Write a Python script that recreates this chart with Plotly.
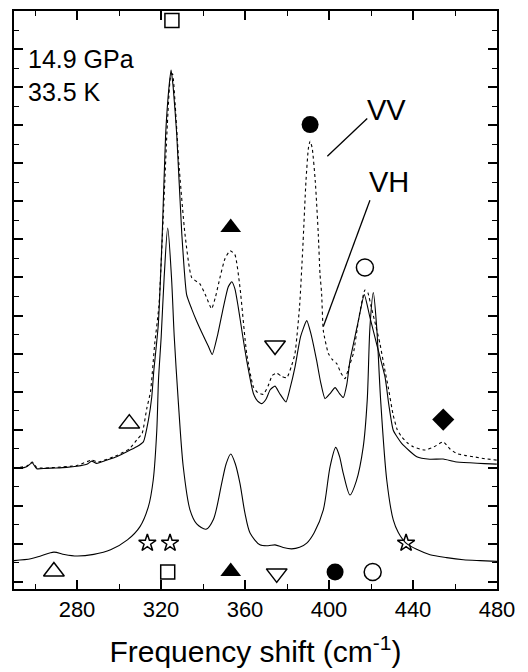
import plotly.graph_objects as go

# ---------------- data ----------------
calc_x = [250, 258, 263, 269, 274, 280, 288, 296, 304, 310, 314, 316.3, 318, 318.8, 320.1, 321.5,
          323.2, 325, 326.3, 328.2, 330.6, 333.8, 337, 341.4, 345, 348.9, 351, 353.2, 355.4, 357.6,
          360, 362.4, 367.1, 371, 374.3, 378.2, 382.2, 386, 389.4, 393, 397.3, 400.5, 403.2, 405,
          406.8, 410, 413, 416.3, 418.2, 419.5, 421.1, 422.7, 424.6, 427.5, 430.6, 433, 436.7, 442,
          448.1, 456, 464, 472, 480]
calc_y = [1.12, 1.22, 1.38, 1.57, 1.44, 1.36, 1.45, 1.69, 2.21, 2.91, 3.96, 5.36, 7.97, 10.6, 12.9, 16.0,
          18.6, 16.0, 12.9, 9.54, 6.05, 3.79, 3.05, 2.77, 3.3, 5.18, 6.2, 6.72, 6.2, 5.18,
          3.6, 2.57, 1.95, 1.9, 1.95, 1.81, 1.74, 1.82, 2.04, 2.6, 3.79, 6.05, 7.07, 6.6,
          5.71, 4.57, 5.3, 7.1, 9.54, 13.4, 15.2, 13.4, 9.54, 5.36, 3.26, 2.6, 2.04, 1.7,
          1.43, 1.28, 1.17, 1.12, 1.08]

vh_x = [250, 253, 256, 258.7, 260.8, 265, 270, 275, 280, 285, 287, 289.4, 294, 298.9, 303, 308.4,
        311.6, 314, 315.6, 316.5, 318.7, 320.6, 322.2, 323.8, 324.8, 325.8, 327.5, 329.9, 332.2,
        334.6, 337, 340.1, 342.5, 344.4, 347, 349.7, 352, 353.7, 355.2, 356.8, 358.8, 360.8, 364,
        366, 368, 370, 372, 374.3, 376.5, 379.5, 381.5, 383.8, 386.5, 389.4, 391.5, 394.1, 396,
        398.1, 400.5, 402.9, 405, 406.8, 408.5, 410, 412, 414, 416.8, 419.5, 422.7, 426.7, 428.5,
        430.6, 434.6, 441.8, 448, 454.4, 460, 467.1, 474, 479.9]
vh_y = [5.97, 5.97, 6.05, 6.26, 5.95, 5.97, 5.99, 6.02, 6.08, 6.2, 6.35, 6.23, 6.4, 6.58, 6.8, 7.1,
        7.36, 8.5, 9.72, 11.0, 13.5, 18.3, 23.5, 26.0, 26.9, 26.0, 23.5, 18.3, 15.1,
        14.35, 13.7, 12.95, 12.4, 11.95, 13.0, 14.43, 15.5, 15.77, 15.4, 14.43, 13.0, 11.64, 9.9,
        9.5, 9.37, 9.6, 10.1, 10.29, 9.9, 9.46, 10.2, 11.29, 12.9, 13.73, 13.0, 11.64, 10.5,
        9.63, 9.9, 10.21, 9.9, 9.69, 10.4, 11.64, 12.7, 13.73, 15.1, 13.9, 12.5, 10.76, 9.3,
        7.97, 7.28, 6.58, 6.45, 6.46, 6.32, 6.26, 6.22, 6.19]

vv_x = [250, 256, 258.7, 261, 270, 280, 287, 290, 299, 305, 308.4, 311, 313.2, 315, 317, 319, 321,
        323, 324.5, 325.5, 326.8, 328.5, 331.4, 334.6, 338.6, 341.5, 344.1, 346, 348.1, 350.5,
        352.9, 355.2, 357.6, 360.8, 364, 366, 368.7, 371, 373, 375.1, 377.5, 379.9, 382, 383.8,
        386, 387.5, 389, 390.2, 391, 392, 393.5, 394.9, 395.7, 396.5, 397.3, 399.7, 401.5, 403.7,
        405.6, 407.6, 409.5, 411.6, 414, 415.8, 417.1, 418.5, 420, 422.2, 424.3, 426.3, 428.2,
        430.5, 432.5, 434.6, 437.4, 440.1, 445.7, 450, 454.4, 457.5, 460.8, 464.7, 468.7, 474, 479.9]
vv_y = [6.0, 6.08, 6.3, 6.0, 6.02, 6.12, 6.4, 6.3, 6.65, 7.0, 7.45, 7.8, 9.1, 10.0, 12.5, 14.5, 19.0,
        24.0, 26.5, 26.7, 25.0, 22.0, 18.3, 16.0, 15.65, 15.0, 14.35, 15.0, 16.0, 17.0,
        17.4, 17.2, 15.48, 12.0, 10.24, 9.95, 9.86, 10.3, 10.85, 10.97, 10.8, 10.73, 11.3, 12.0,
        14.5, 17.5, 21.0, 22.8, 23.16, 22.8, 21.0, 18.27, 16.2, 15.13, 13.2, 12.0, 11.7, 11.47,
        11.0, 10.68, 11.3, 12.0, 13.73, 14.8, 15.34, 15.2, 14.5, 13.5, 12.5, 11.3, 10.24,
        8.8, 8.0, 7.62, 7.3, 7.1, 6.93, 7.1, 7.36, 7.0, 6.75, 6.65, 6.58, 6.48, 6.4]

# mode markers
mark_x = [325.2, 353.2, 374.3, 391.0, 417.1, 304.9, 454.4,
          313.5, 324.3, 436.7,
          269.0, 323.2, 353.2, 375.1, 402.9, 420.8]
mark_y = [29.5, 18.62, 12.42, 24.03, 16.52, 8.32, 8.53,
          2.04, 2.04, 2.04,
          0.55, 0.52, 0.55, 0.45, 0.52, 0.52]
mark_sym = ["square-open", "triangle-up", "triangle-down-open", "circle", "circle-open",
            "triangle-up-open", "diamond",
            "star-open", "star-open", "star-open",
            "triangle-up-open", "square-open", "triangle-up", "triangle-down-open", "circle",
            "circle-open"]

# text labels
label_text = ["14.9 GPa", "33.5 K"]
label_x = [255.7, 255.7]
label_y = [27.5, 25.72]
pol_text = ["VV", "VH"]
pol_x = [427.6, 428.6]
pol_y = [24.8, 21.0]
# leader lines: (x0, y0, x1, y1)
leader = [(418.2, 24.35, 399.2, 22.37), (419.5, 20.06, 397.3, 13.42)]

x_title = "Frequency shift (cm<sup>-1</sup>)"
FONT = "Liberation Sans, Arial, Helvetica, sans-serif"

fig = go.Figure()
fig.add_trace(go.Scatter(x=calc_x, y=calc_y, mode="lines",
                         line=dict(color="black", width=1.1, shape="spline", smoothing=0.8)))
fig.add_trace(go.Scatter(x=vv_x, y=vv_y, mode="lines",
                         line=dict(color="black", width=1.1, dash="dot", shape="spline", smoothing=0.5)))
fig.add_trace(go.Scatter(x=vh_x, y=vh_y, mode="lines",
                         line=dict(color="black", width=1.1, shape="spline", smoothing=0.5)))

size_map = {"square-open": 14, "triangle-up": 18, "triangle-up-open": 18,
            "triangle-down-open": 18, "circle": 17, "circle-open": 17,
            "diamond": 17, "star-open": 13}
for is_open in (True, False):
    idx = [i for i, s in enumerate(mark_sym) if s.endswith("open") == is_open]
    fig.add_trace(go.Scatter(
        x=[mark_x[i] for i in idx], y=[mark_y[i] for i in idx], mode="markers",
        opacity=1,
        marker=dict(symbol=[mark_sym[i] for i in idx],
                    size=[size_map[mark_sym[i]] for i in idx],
                    color="black", opacity=1,
                    line=dict(color="black", width=1.5 if is_open else 0))))

for t, x, y in zip(label_text, label_x, label_y):
    fig.add_annotation(x=x, y=y, text=t, showarrow=False, xanchor="left", yanchor="middle",
                       font=dict(family=FONT, size=25, color="black"))
for t, x, y in zip(pol_text, pol_x, pol_y):
    fig.add_annotation(x=x, y=y, text=t, showarrow=False, xanchor="center", yanchor="middle",
                       font=dict(family=FONT, size=29, color="black"))
for (x0, y0, x1, y1) in leader:
    fig.add_shape(type="line", x0=x0, y0=y0, x1=x1, y1=y1, xref="x", yref="y",
                  line=dict(color="black", width=1.3))

fig.update_layout(
    width=528, height=672,
    margin=dict(l=14, r=31, t=9, b=82),
    plot_bgcolor="white", paper_bgcolor="white",
    showlegend=False,
    font=dict(family=FONT, color="black"),
)
fig.update_xaxes(
    range=[250, 480], tick0=0, dtick=40, ticks="inside", ticklen=9, tickwidth=1.5,
    tickcolor="black", showline=True, linewidth=1.8, linecolor="black", mirror="allticks",
    showgrid=False, zeroline=False, tickfont=dict(size=22, family=FONT),
    minor=dict(tick0=0, dtick=20, ticks="inside", ticklen=5, tickwidth=1.3, tickcolor="black", showgrid=False),
    title=dict(text=x_title, font=dict(size=30, family=FONT), standoff=20),
)
fig.update_yaxes(
    range=[-0.37, 30], tick0=0, dtick=2, ticks="inside", ticklen=9, tickwidth=1.5,
    tickcolor="black", showline=True, linewidth=1.8, linecolor="black", mirror="allticks",
    showgrid=False, zeroline=False, showticklabels=False,
    minor=dict(tick0=0, dtick=1, ticks="inside", ticklen=5, tickwidth=1.3, tickcolor="black", showgrid=False),
)

fig.write_html("out.html", config={"displayModeBar": False},
               post_script="document.body.style.margin='0';document.body.style.overflow='hidden';")
